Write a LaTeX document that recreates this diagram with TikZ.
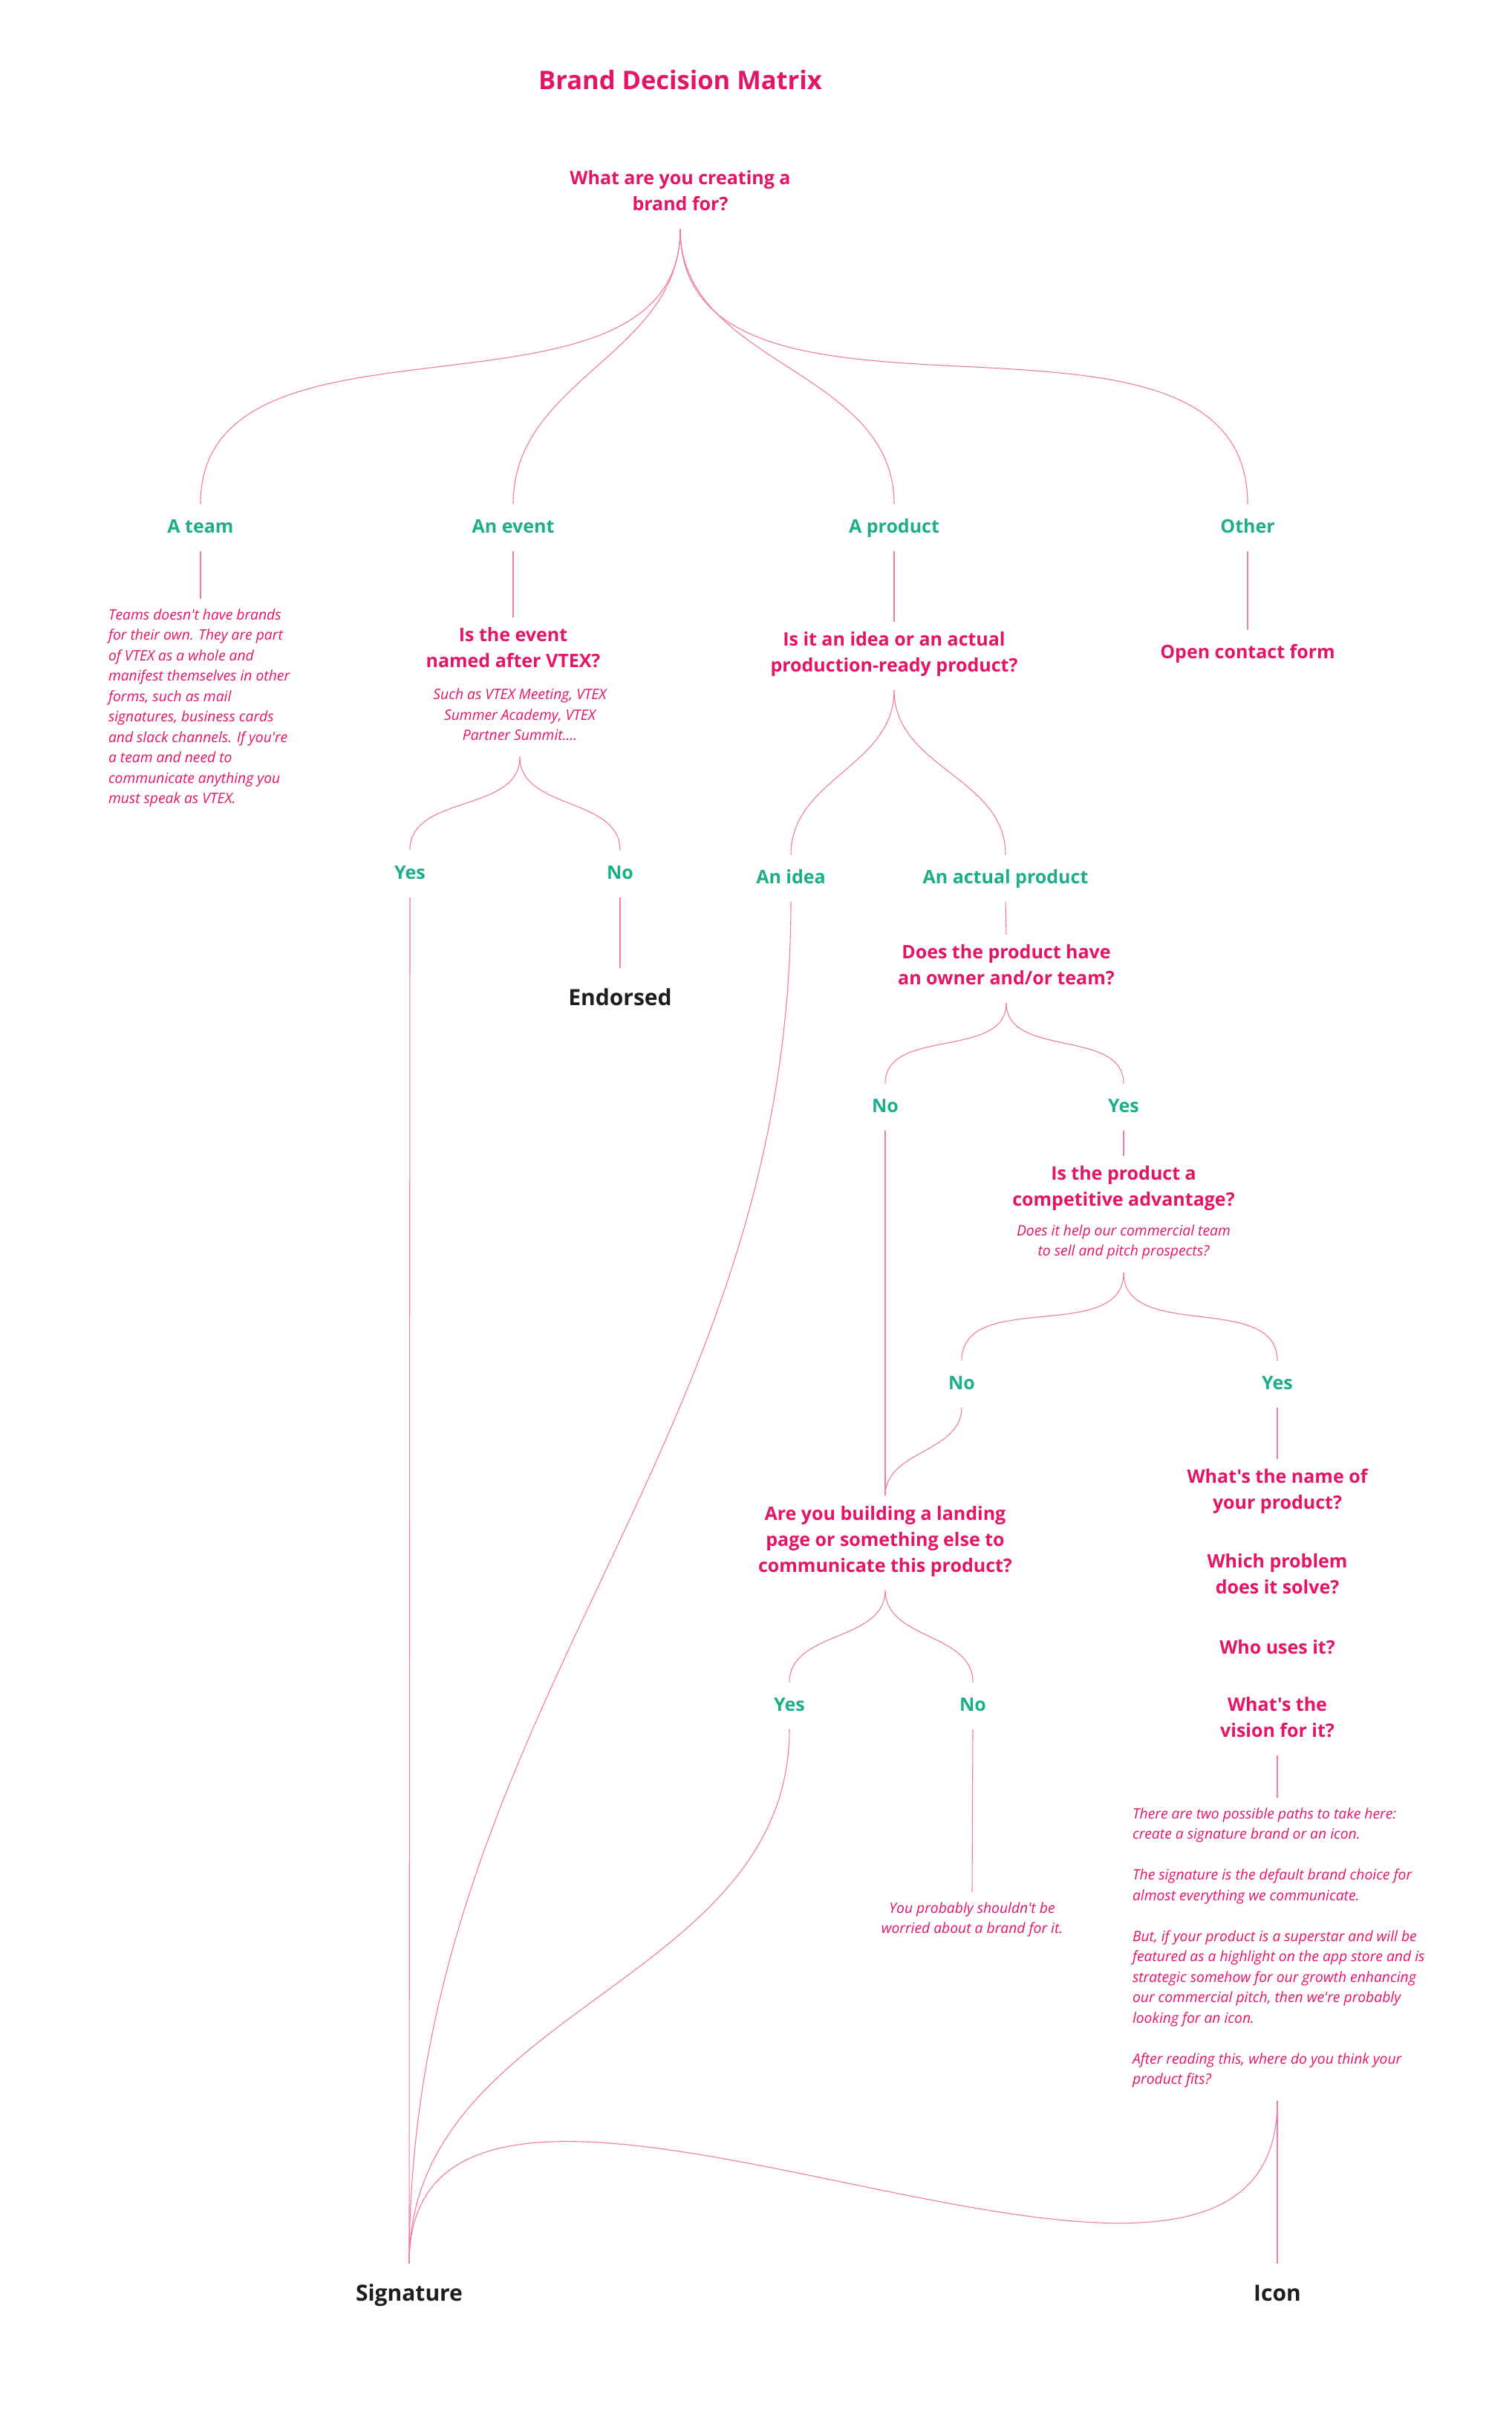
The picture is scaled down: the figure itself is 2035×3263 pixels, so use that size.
\documentclass[tikz,border=0pt]{standalone}
\usepackage{fontspec}
\setmainfont{Open Sans}[Ligatures=TeXOff]
\definecolor{vpink}{HTML}{E41467}
\definecolor{vgreen}{HTML}{1BAE88}
\definecolor{vline}{HTML}{F27BA6}
\definecolor{vblack}{HTML}{1E1E1E}
\begin{document}
\begin{tikzpicture}[x=1pt, y=1pt,
    question/.style={draw=none, align=center, text=vpink, inner sep=0pt, outer sep=14pt,
      font={\fontsize{25}{35}\selectfont\bfseries},
      execute at begin node=\strut, execute at end node=\strut},
    answer/.style={question, text=vgreen},
    result/.style={question, text=vblack, outer sep=22pt, font={\fontsize{30}{40}\selectfont\bfseries}},
    note/.style={question, font={\fontsize{19.3}{27.5}\selectfont\itshape}},
    link/.style={draw=vline, line width=1.1pt},
    branch/.style={link, out=-90, in=90},
    longbranch/.style={link, to path={.. controls ([yshift=-#1]\tikztostart) and ([yshift=#1]\tikztotarget) .. (\tikztotarget)}}]
    \useasboundingbox (0,0) rectangle (2035,-3263);
    \fill [white] (0,0) rectangle (2035,-3263);

    % title and first question
    \node [question, font={\fontsize{34.5}{42}\selectfont\bfseries}, name=title] at (916,-112) {Brand Decision Matrix};
    \node [question, name=root] at (916,-262) {What are you creating a\\brand for?};
    \node [answer, name=team] at (270,-710) {A team};
    \node [answer, name=event] at (691,-710) {An event};
    \node [answer, name=product] at (1204,-710) {A product};
    \node [answer, name=other] at (1680,-710) {Other};
    \foreach \b in {team,event,product,other}
      \draw [branch] (root.south) to (\b.north);

    % a team
    \node [note, align=left, anchor=west, name=teamnote] at (132,-955) {Teams doesn't have brands\\for their own. They are part\\of VTEX as a whole and\\manifest themselves in other\\forms, such as mail\\signatures, business cards\\and slack channels. If you're\\a team and need to\\communicate anything you\\must speak as VTEX.};
    \draw [link] (team.south) -- (team.south |- teamnote.north);

    % an event
    \node [question, name=eventq] at (691,-877) {Is the event\\named after VTEX?};
    \node [note, name=eventnote] at (700,-966) {Such as VTEX Meeting, VTEX\\Summer Academy, VTEX\\Partner Summit....};
    \node [answer, name=evyes] at (552,-1176) {Yes};
    \node [answer, name=evno] at (835,-1176) {No};
    \node [result, name=endorsed] at (835,-1345) {Endorsed};
    \draw [link] (event.south) -- (eventq.north);
    \draw [branch] (eventnote.south) to (evyes.north);
    \draw [branch] (eventnote.south) to (evno.north);
    \draw [link] (evno.south) -- (endorsed.north);

    % a product
    \node [question, name=ideaq] at (1204,-883) {Is it an idea or an actual\\production-ready product?};
    \node [answer, name=idea] at (1065,-1182) {An idea};
    \node [answer, name=actual] at (1354,-1182) {An actual product};
    \draw [link] (product.south) -- (ideaq.north);
    \draw [branch] (ideaq.south) to (idea.north);
    \draw [branch] (ideaq.south) to (actual.north);

    % owner and team
    \node [question, name=owner] at (1355,-1304) {Does the product have\\an owner and/or team?};
    \node [answer, name=ownno] at (1192,-1490) {No};
    \node [answer, name=ownyes] at (1513,-1490) {Yes};
    \draw [link] (actual.south) -- (owner.north);
    \draw [branch] (owner.south) to (ownno.north);
    \draw [branch] (owner.south) to (ownyes.north);

    % competitive advantage
    \node [question, name=adv] at (1513,-1602) {Is the product a\\competitive advantage?};
    \node [note, name=advnote] at (1513,-1674) {Does it help our commercial team\\to sell and pitch prospects?};
    \node [answer, name=advno] at (1295,-1863) {No};
    \node [answer, name=advyes] at (1720,-1863) {Yes};
    \draw [link] (ownyes.south) -- (adv.north);
    \draw [branch] (advnote.south) to (advno.north);
    \draw [branch] (advnote.south) to (advyes.north);

    % landing page
    \node [question, name=landing] at (1192,-2077) {Are you building a landing\\page or something else to\\communicate this product?};
    \node [answer, name=landyes] at (1063,-2296) {Yes};
    \node [answer, name=landno] at (1310,-2296) {No};
    \node [note, name=nonote] at (1309,-2586) {You probably shouldn't be\\worried about a brand for it.};
    \draw [link] (ownno.south) -- (landing.north);
    \draw [branch] (advno.south) to (landing.north);
    \draw [branch] (landing.south) to (landyes.north);
    \draw [branch] (landing.south) to (landno.north);
    \draw [link] (landno.south) -- (nonote.north);

    % naming questions
    \node [question, name=name] at (1720,-2010) {What's the name of\\your product?};
    \node [question, name=problem] at (1720,-2124) {Which problem\\does it solve?};
    \node [question, name=users] at (1720,-2219) {Who uses it?};
    \node [question, name=vision] at (1720,-2317) {What's the\\vision for it?};
    \node [note, align=left, anchor=west, name=paths] at (1511,-2624) {There are two possible paths to take here:\\create a signature brand or an icon.\\[27.5pt]The signature is the default brand choice for\\almost everything we communicate.\\[27.5pt]But, if your product is a superstar and will be\\featured as a highlight on the app store and is\\strategic somehow for our growth enhancing\\our commercial pitch, then we're probably\\looking for an icon.\\[27.5pt]After reading this, where do you think your\\product fits?};
    \draw [link] (advyes.south) -- (name.north);
    \draw [link] (vision.south) -- (vision.south |- paths.north);

    % other
    \node [question, name=contact] at (1680,-879) {Open contact form};
    \draw [link] (other.south) -- (contact.north);

    % brands
    \node [result, name=signature] at (551,-3089) {Signature};
    \node [result, name=icon] at (1720,-3089) {Icon};
    \coordinate (pick) at (icon |- paths.south);
    \draw [link] (evyes.south) -- (signature.north);
    \draw [longbranch=744pt] (idea.south) to (signature.north);
    \draw [longbranch=345pt] (landyes.south) to (signature.north);
    \draw [link] (pick) -- (icon.north);
    \draw [longbranch=460pt] (pick) to (signature.north);
\end{tikzpicture}
\end{document}
